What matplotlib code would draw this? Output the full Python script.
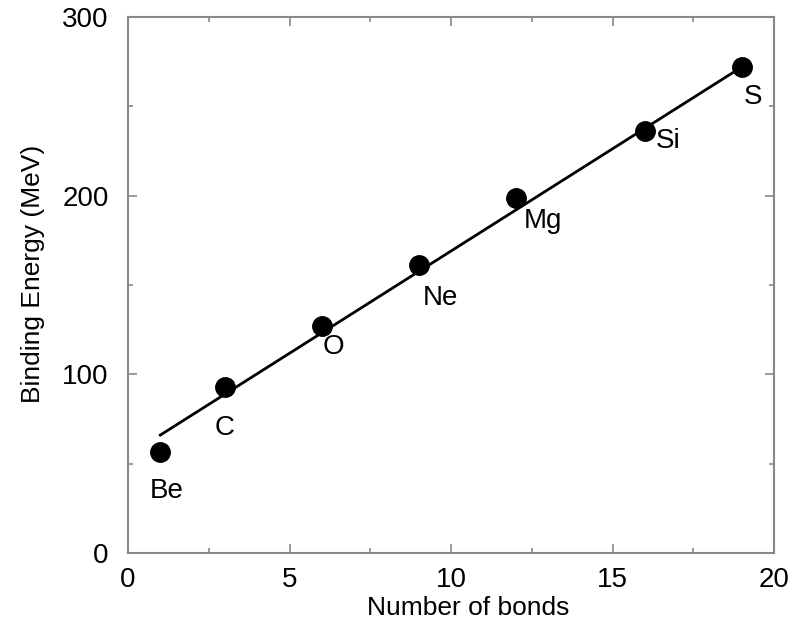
import matplotlib.pyplot as plt
from matplotlib.ticker import MultipleLocator

plt.rcParams['font.family'] = ['Liberation Sans', 'DejaVu Sans']

# data
elements = ["Be", "C", "O", "Ne", "Mg", "Si", "S"]
bonds = [1, 3, 6, 9, 12, 16, 19]
energy = [56.5, 92.9, 127, 161.2, 198.7, 236.1, 272]
fit_x = [1, 19]
fit_y = [66, 272]

fig = plt.figure(figsize=(8.05, 6.3), dpi=100)
ax = fig.add_axes([128 / 805, 1 - 553 / 630, (774 - 128) / 805, (553 - 17) / 630])

ax.plot(fit_x, fit_y, color="black", linewidth=2)
ax.plot(bonds, energy, "o", color="black", markersize=14)

# label offsets in points (to the text baseline)
offsets = [(4.5, -33), (0, -34.5), (8.5, -20), (16, -29), (19.5, -21.5), (16.5, -12), (8.5, -26.5)]
for name, x, y, off in zip(elements, bonds, energy, offsets):
    ax.annotate(name, (x, y), xytext=off, textcoords="offset points",
                ha="center", va="baseline", fontsize=20)

ax.set_xlim(0, 20)
ax.set_ylim(0, 300)
ax.xaxis.set_major_locator(MultipleLocator(5))
ax.xaxis.set_minor_locator(MultipleLocator(2.5))
ax.yaxis.set_major_locator(MultipleLocator(100))
ax.yaxis.set_minor_locator(MultipleLocator(50))
ax.tick_params(which="both", direction="in", top=True, right=True,
               color="#888888", labelsize=20)
ax.tick_params(axis="x", pad=10)
ax.tick_params(axis="y", pad=14)
ax.tick_params(which="major", length=6.5, width=1.2)
ax.tick_params(which="minor", length=3.3, width=1.2)
for s in ax.spines.values():
    s.set_color("#888888")
    s.set_linewidth(1.5)

ax.set_xlabel("Number of bonds", fontsize=19, labelpad=2)
ax.set_ylabel("Binding Energy (MeV)", fontsize=19, labelpad=12)
ax.xaxis.label.set_x(0.526)
ax.yaxis.label.set_y(0.52)

fig.savefig("out.png", dpi=100)
